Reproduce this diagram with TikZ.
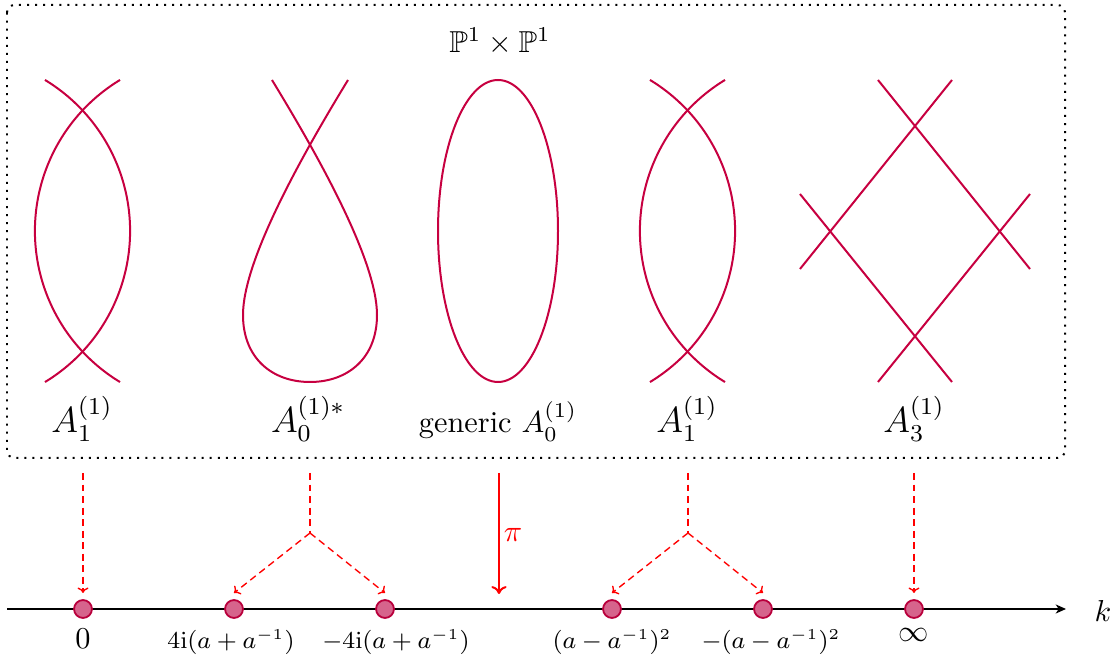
\documentclass[tikz,border=0pt]{standalone}
\usepackage{amsmath,amssymb}
\usetikzlibrary{arrows.meta}
\definecolor{curvec}{RGB}{199,0,64}
\definecolor{dotfill}{RGB}{214,100,140}
\definecolor{dotline}{RGB}{185,0,60}
\begin{document}
\begin{tikzpicture}[x=0.33pt,y=-0.33pt,
  curve/.style={draw=curvec,line width=0.66pt},
  pt/.style={circle,fill=dotfill,draw=dotline,line width=0.6pt,minimum size=5.9pt,inner sep=0pt},
  proj/.style={red,line width=0.45pt,dash pattern=on 2.3pt off 1.5pt},
  projarrow/.style={proj,-{To[length=1.8pt,width=3.6pt]}},
  vallabel/.style={anchor=north,inner sep=0pt},
  smalllabel/.style={vallabel,font=\fontsize{7.6}{9}\selectfont},
  typelabel/.style={anchor=base,inner sep=0pt,font=\large}]
\useasboundingbox (0,0) rectangle (1115,656);
% frame
\draw[dotted,line width=0.66pt,rounded corners=2.5pt] (7,5) rectangle (1065,458);
\node[anchor=base,inner sep=0pt] (title) at (500,53) {$\mathbb{P}^1\times\mathbb{P}^1$};
% A1 (left)
\draw[curve] plot[domain=-58.8:58.8,samples=60,smooth] ({-46.5+176.6*cos(\x)},{231+176.6*sin(\x)});
\draw[curve] plot[domain=121.2:238.8,samples=60,smooth] ({211.5+176.6*cos(\x)},{231+176.6*sin(\x)});
% A0* teardrop
\draw[curve] (272,80) .. controls (322,162) and (377,262) .. (377,315)
  .. controls (377,358) and (348,382) .. (310,382)
  .. controls (272,382) and (243,358) .. (243,315)
  .. controls (243,262) and (298,162) .. (348,80);
% generic
\draw[curve] (498,231) ellipse[x radius=60,y radius=151];
% A1 (right)
\draw[curve] plot[domain=-58.8:58.8,samples=60,smooth] ({558.5+176.6*cos(\x)},{231+176.6*sin(\x)});
\draw[curve] plot[domain=121.2:238.8,samples=60,smooth] ({816.5+176.6*cos(\x)},{231+176.6*sin(\x)});
% A3
\draw[curve] (878,80) -- (1030,269);
\draw[curve] (952,80) -- (800,269);
\draw[curve] (800,194) -- (952,382);
\draw[curve] (1030,194) -- (878,382);
% type labels
\node[typelabel] (l1) at (82,433) {$A_1^{(1)}$};
\node[typelabel] (l2) at (308,433) {$A_0^{(1)*}$};
\node[anchor=base,inner sep=0pt] (l3) at (498,433) {generic $A_0^{(1)}$};
\node[typelabel] (l4) at (687,433) {$A_1^{(1)}$};
\node[typelabel] (l5) at (914,433) {$A_3^{(1)}$};
% axis
\coordinate (axs) at (7,609);
\coordinate (axe) at (1066,609);
\draw[line width=0.66pt,-{Stealth[length=3.4pt,width=3pt,inset=1pt]}] (axs) -- (axe);
\node[inner sep=0pt] (k) at (1103,611) {$k$};
% points
\node[pt] (d0) at (83,609) {};
\node[pt] (d1) at (234,609) {};
\node[pt] (d2) at (385,609) {};
\node[pt] (d3) at (612,609) {};
\node[pt] (d4) at (763,609) {};
\node[pt] (d5) at (914,609) {};
\node[vallabel] (v0) at (83,628) {$0$};
\node[smalllabel] (v1) at (231,629) {$4\mathrm{i}(a+a^{-1})$};
\node[smalllabel] (v2) at (396,629) {$-4\mathrm{i}(a+a^{-1})$};
\node[smalllabel] (v3) at (612,629) {$(a-a^{-1})^2$};
\node[smalllabel] (v4) at (771,629) {$-(a-a^{-1})^2$};
\node[vallabel] (v5) at (914,628) {$\infty$};
% projection arrows
\coordinate (s0) at (83,473);
\coordinate (s1) at (310,473);
\coordinate (b1) at (310,533);
\coordinate (s2) at (688,473);
\coordinate (b2) at (688,533);
\coordinate (s5) at (914,473);
\path (d0) ++(0,-16) coordinate (t0);
\path (d1) ++(0,-16) coordinate (t1);
\path (d2) ++(0,-16) coordinate (t2);
\path (d3) ++(0,-16) coordinate (t3);
\path (d4) ++(0,-16) coordinate (t4);
\path (d5) ++(0,-16) coordinate (t5);
\draw[projarrow] (s0) -- (t0);
\draw[proj] (s1) -- (b1);
\draw[projarrow] (b1) -- (t1);
\draw[projarrow] (b1) -- (t2);
\draw[proj] (s2) -- (b2);
\draw[projarrow] (b2) -- (t3);
\draw[projarrow] (b2) -- (t4);
\draw[projarrow] (s5) -- (t5);
% pi
\coordinate (pit) at (499,473);
\coordinate (pib) at (499,594);
\draw[red,line width=0.66pt,-{To[length=2.6pt,width=5pt]}] (pit) -- (pib);
\node[red,inner sep=0pt] (pi) at (513,535) {$\pi$};
\end{tikzpicture}
\end{document}
